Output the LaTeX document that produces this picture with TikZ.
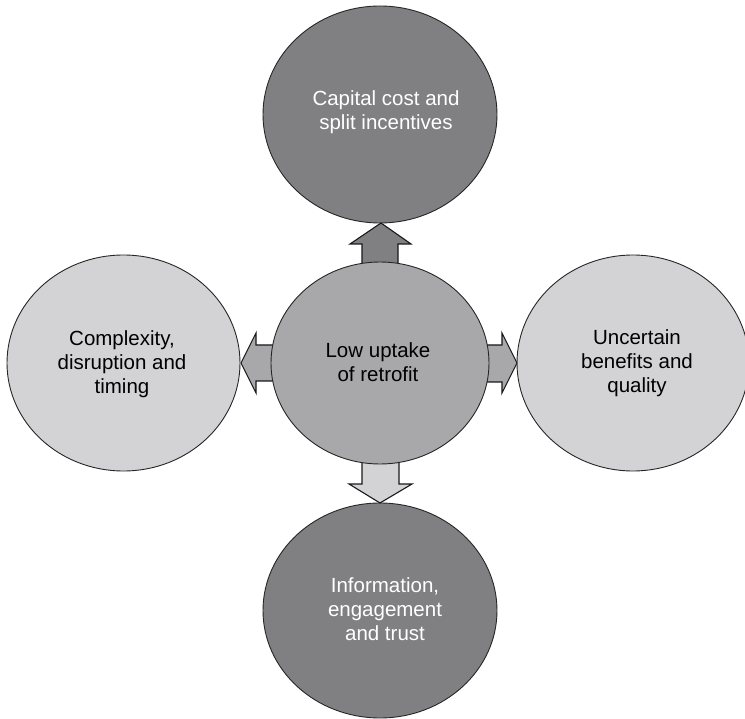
\documentclass[tikz,border=0pt]{standalone}
\usepackage{fontspec}
\setmainfont{Liberation Sans}
\definecolor{darkg}{RGB}{128,128,131}
\definecolor{midg}{RGB}{168,168,171}
\definecolor{lightg}{RGB}{211,211,213}
\tikzset{
  bubble/.style={draw=black!85, line width=0.9pt, align=center, font=\fontsize{20.5}{24}\selectfont},
  arrowshape/.style={draw=black!90, line width=1.1pt, line join=miter},
}
\begin{document}
\begin{tikzpicture}[x=1pt,y=-1pt]
\useasboundingbox (0,0) rectangle (745,719);
% outer circles
\draw[bubble, fill=darkg] (380,114.5) ellipse [x radius=117, y radius=108.5];
\draw[bubble, fill=darkg] (380,610.5) ellipse [x radius=117, y radius=107.5];
\draw[bubble, fill=lightg] (123.5,363) ellipse [x radius=116.5, y radius=108];
\draw[bubble, fill=lightg] (633,363) ellipse [x radius=116, y radius=108];
% arrows
\draw[arrowshape, fill=darkg] (362,266) -- (362,244) -- (350,244) -- (381,223) -- (411,244) -- (398,244) -- (398,266) -- cycle;
\draw[arrowshape, fill=midg] (273,345) -- (256,345) -- (256,333) -- (241,363) -- (256,393) -- (256,381) -- (273,381) -- cycle;
\draw[arrowshape, fill=midg] (486,345) -- (502,345) -- (502,333) -- (517,363) -- (502,393) -- (502,382) -- (486,382) -- cycle;
\draw[arrowshape, fill=lightg] (362,460) -- (362,484) -- (349,484) -- (380,503) -- (412,484) -- (399,484) -- (399,460) -- cycle;
% center circle
\draw[bubble, fill=midg] (380,363) ellipse [x radius=109, y radius=101];
% labels
\node[bubble, draw=none, text=white] (top) at (386,112) {Capital cost and\\split incentives};
\node[bubble, draw=none] (center) at (378,362) {Low uptake\\of retrofit};
\node[bubble, draw=none] (left) at (122,364) {Complexity,\\disruption and\\timing};
\node[bubble, draw=none] (right) at (637,363) {Uncertain\\benefits and\\quality};
\node[bubble, draw=none, text=white] (bottom) at (385,609) {Information,\\engagement\\and trust};
\end{tikzpicture}
\end{document}
